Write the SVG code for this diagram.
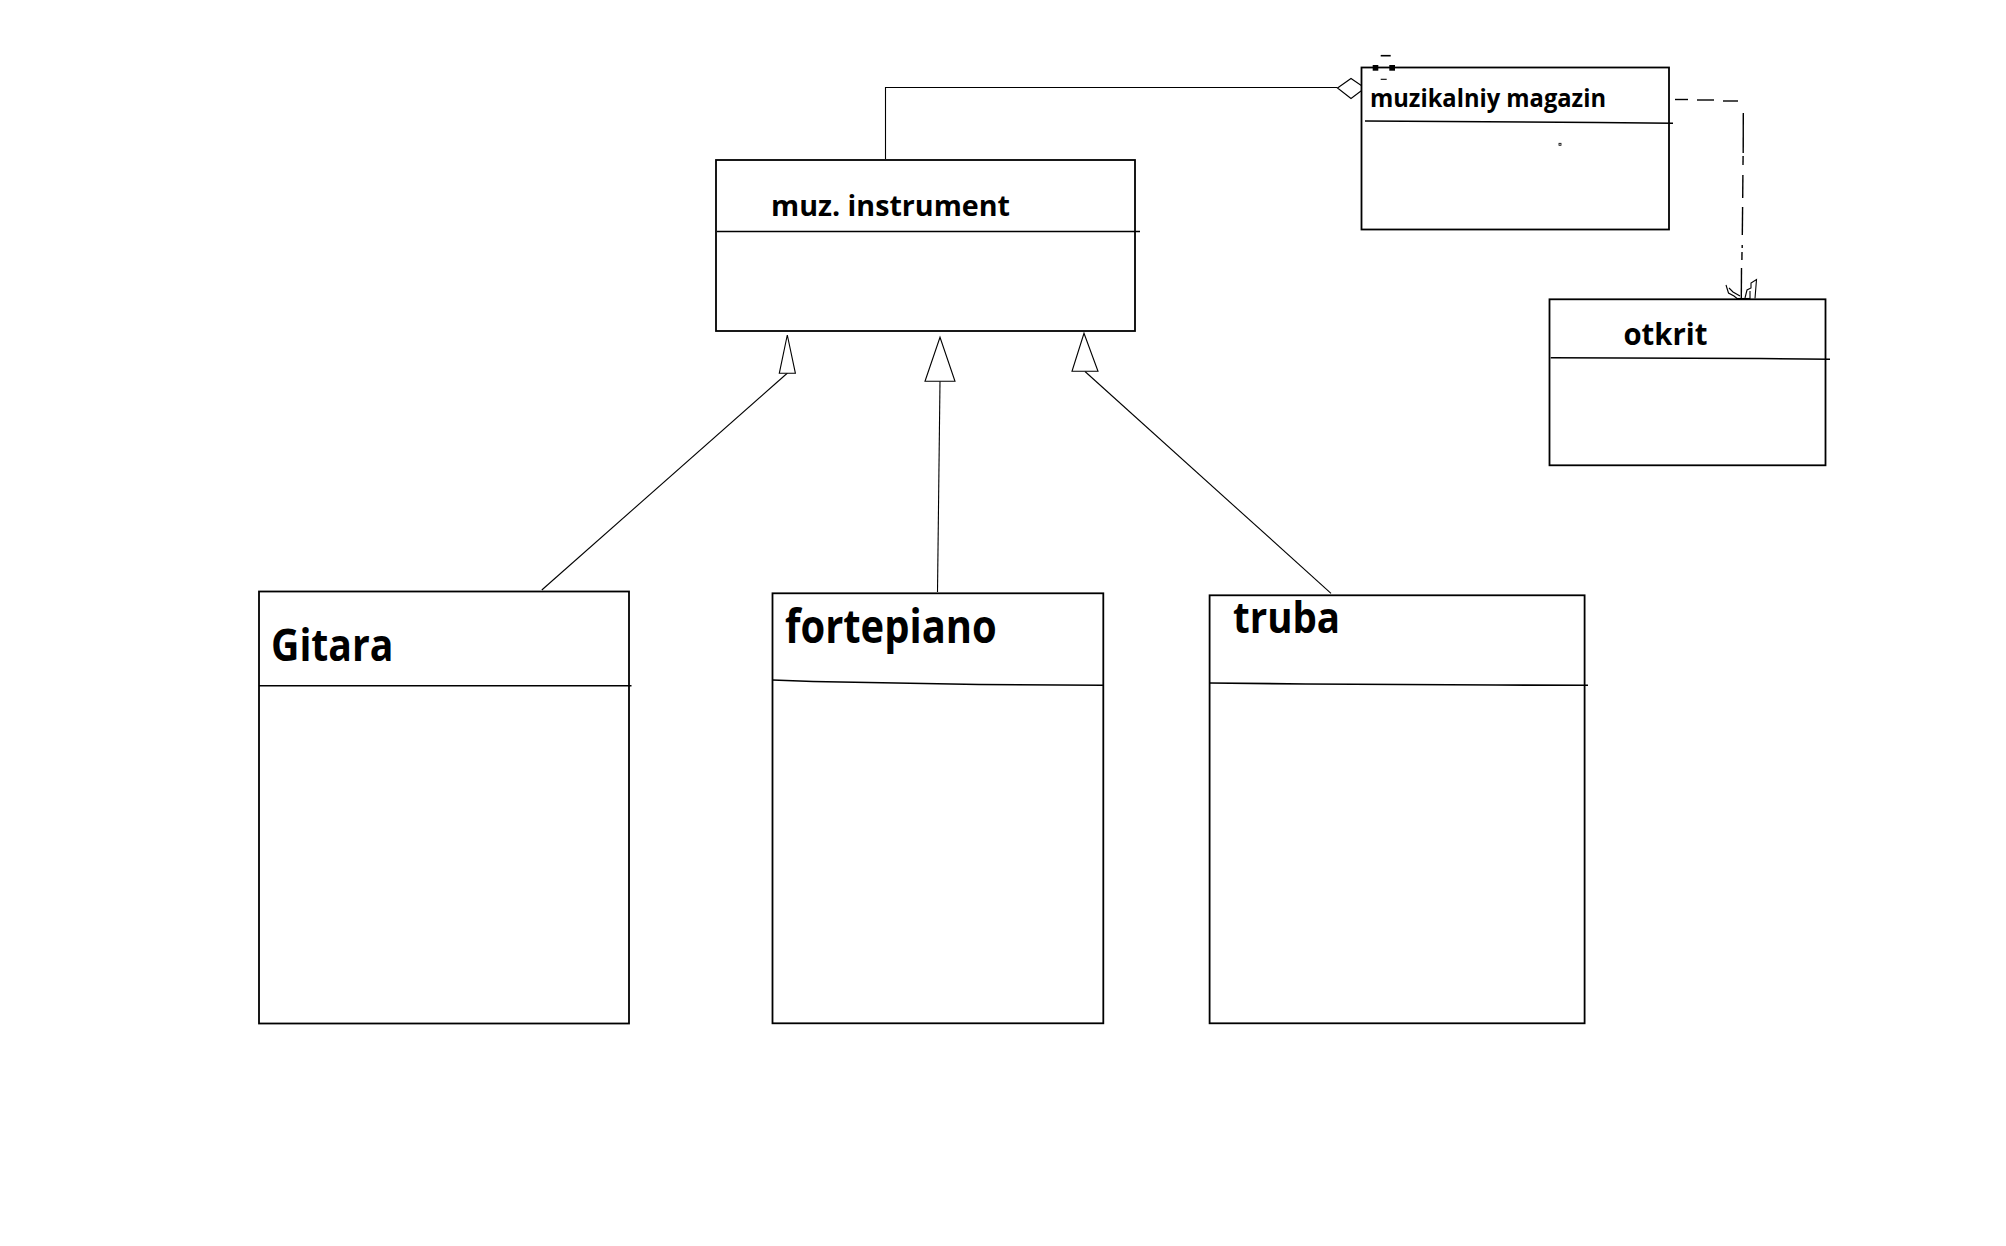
<svg xmlns="http://www.w3.org/2000/svg" width="2006" height="1246" viewBox="0 0 2006 1246">
<style>
.box{fill:#fff;stroke:#000;stroke-width:1.8}
.div{stroke:#000;stroke-width:1.6;fill:none}
.ln{stroke:#000;stroke-width:1.1;fill:none}
.dash{stroke:#000;stroke-width:1.4;fill:none}
.tri{fill:#fff;stroke:#000;stroke-width:1.1}
.t{font-family:"Open Sans","Liberation Sans",sans-serif;font-weight:bold;fill:#000}
</style>
<rect width="2006" height="1246" fill="#fff"/>
<g id="connectors">
<polyline class="ln" points="885.5,159 885.5,87.5 1337.5,87.5"/>
<polygon class="tri" points="1337.5,88 1351,78.5 1365,88 1351,98.5"/>
<line class="ln" x1="787.5" y1="373" x2="541.8" y2="590"/>
<polygon class="tri" points="787.3,335 795.4,373.3 779.3,373.3"/>
<line class="ln" x1="940" y1="381.3" x2="937.5" y2="592"/>
<polygon class="tri" points="940,337.3 955,381.3 925,381.3"/>
<line class="ln" x1="1085" y1="371.5" x2="1331" y2="593.3"/>
<polygon class="tri" points="1084,333.3 1098,371.3 1072,371.3"/>
<g class="dash">
<line x1="1675" y1="99.5" x2="1688" y2="99.5"/>
<line x1="1697" y1="100" x2="1714" y2="100"/>
<line x1="1723" y1="101" x2="1738" y2="101"/>
<line x1="1743.3" y1="113" x2="1743.2" y2="153"/>
<line x1="1743.1" y1="156" x2="1743" y2="165"/>
<line x1="1742.9" y1="175" x2="1742.7" y2="198"/>
<line x1="1742.6" y1="207" x2="1742.3" y2="235"/>
<line x1="1742.2" y1="245" x2="1742.2" y2="248"/>
<line x1="1742" y1="252" x2="1741.9" y2="260"/>
<line x1="1741.5" y1="268" x2="1741.3" y2="298"/>
</g>
<g class="ln">
<polyline points="1726,285 1728.5,293 1734,296 1737,298.5 1741,298.5"/>
<polyline points="1729,288 1733,292 1740,296"/>
<rect x="1737" y="298.5" width="13" height="3"/>
<polyline points="1745,298 1747,290 1751,288 1751,283 1756.5,279.5 1755,298.5"/>
<polyline points="1750,298 1750,291"/>
</g>
</g>
<g id="muz-instrument">
<rect class="box" x="716" y="160" width="419" height="171"/>
<line class="div" x1="717" y1="231.5" x2="1140" y2="231.5"/>
<text class="t" x="771" y="216" font-size="29" textLength="239" lengthAdjust="spacingAndGlyphs">muz. instrument</text>
</g>
<g id="muzikalniy-magazin">
<rect class="box" x="1361.5" y="67.5" width="307.5" height="162"/>
<polyline class="div" points="1365,121 1445,121.5 1597,122.5 1673,123.3"/>
<text class="t" x="1370" y="106.5" font-size="25" textLength="236" lengthAdjust="spacingAndGlyphs">muzikalniy magazin</text>
<rect x="1372.7" y="65" width="5.6" height="5.7" fill="#000"/>
<rect x="1389.3" y="65" width="5.7" height="5.7" fill="#000"/>
<line class="div" x1="1380.7" y1="55.7" x2="1390.7" y2="55.7"/>
<line class="ln" x1="1380.7" y1="79.3" x2="1386.7" y2="79.3"/>
<rect x="1559" y="143.3" width="2" height="2" fill="none" stroke="#000" stroke-width="0.8"/>
</g>
<g id="otkrit">
<rect class="box" x="1549.5" y="299.3" width="276" height="166"/>
<polyline class="div" points="1550.7,357.7 1621,358 1760,358.5 1830,359.3"/>
<text class="t" x="1623.4" y="345" font-size="31" textLength="84" lengthAdjust="spacingAndGlyphs">otkrit</text>
</g>
<g id="gitara">
<rect class="box" x="259" y="591.5" width="370" height="432"/>
<line class="div" x1="259" y1="685.7" x2="631.5" y2="685.7"/>
<text class="t" x="271" y="661" font-size="44" textLength="122.5" lengthAdjust="spacingAndGlyphs">Gitara</text>
</g>
<g id="fortepiano">
<rect class="box" x="772.5" y="593.3" width="330.8" height="430"/>
<polyline class="div" points="772.5,680 813,681.5 896,683 979,684.5 1103.3,685.3"/>
<text class="t" x="785" y="643.3" font-size="46" textLength="211.7" lengthAdjust="spacingAndGlyphs">fortepiano</text>
</g>
<g id="truba">
<rect class="box" x="1209.6" y="595.3" width="375" height="428"/>
<polyline class="div" points="1209.6,683 1306,684 1496,685 1588,685.3"/>
<text class="t" x="1233" y="633.3" font-size="43" textLength="107" lengthAdjust="spacingAndGlyphs">truba</text>
</g>
</svg>
